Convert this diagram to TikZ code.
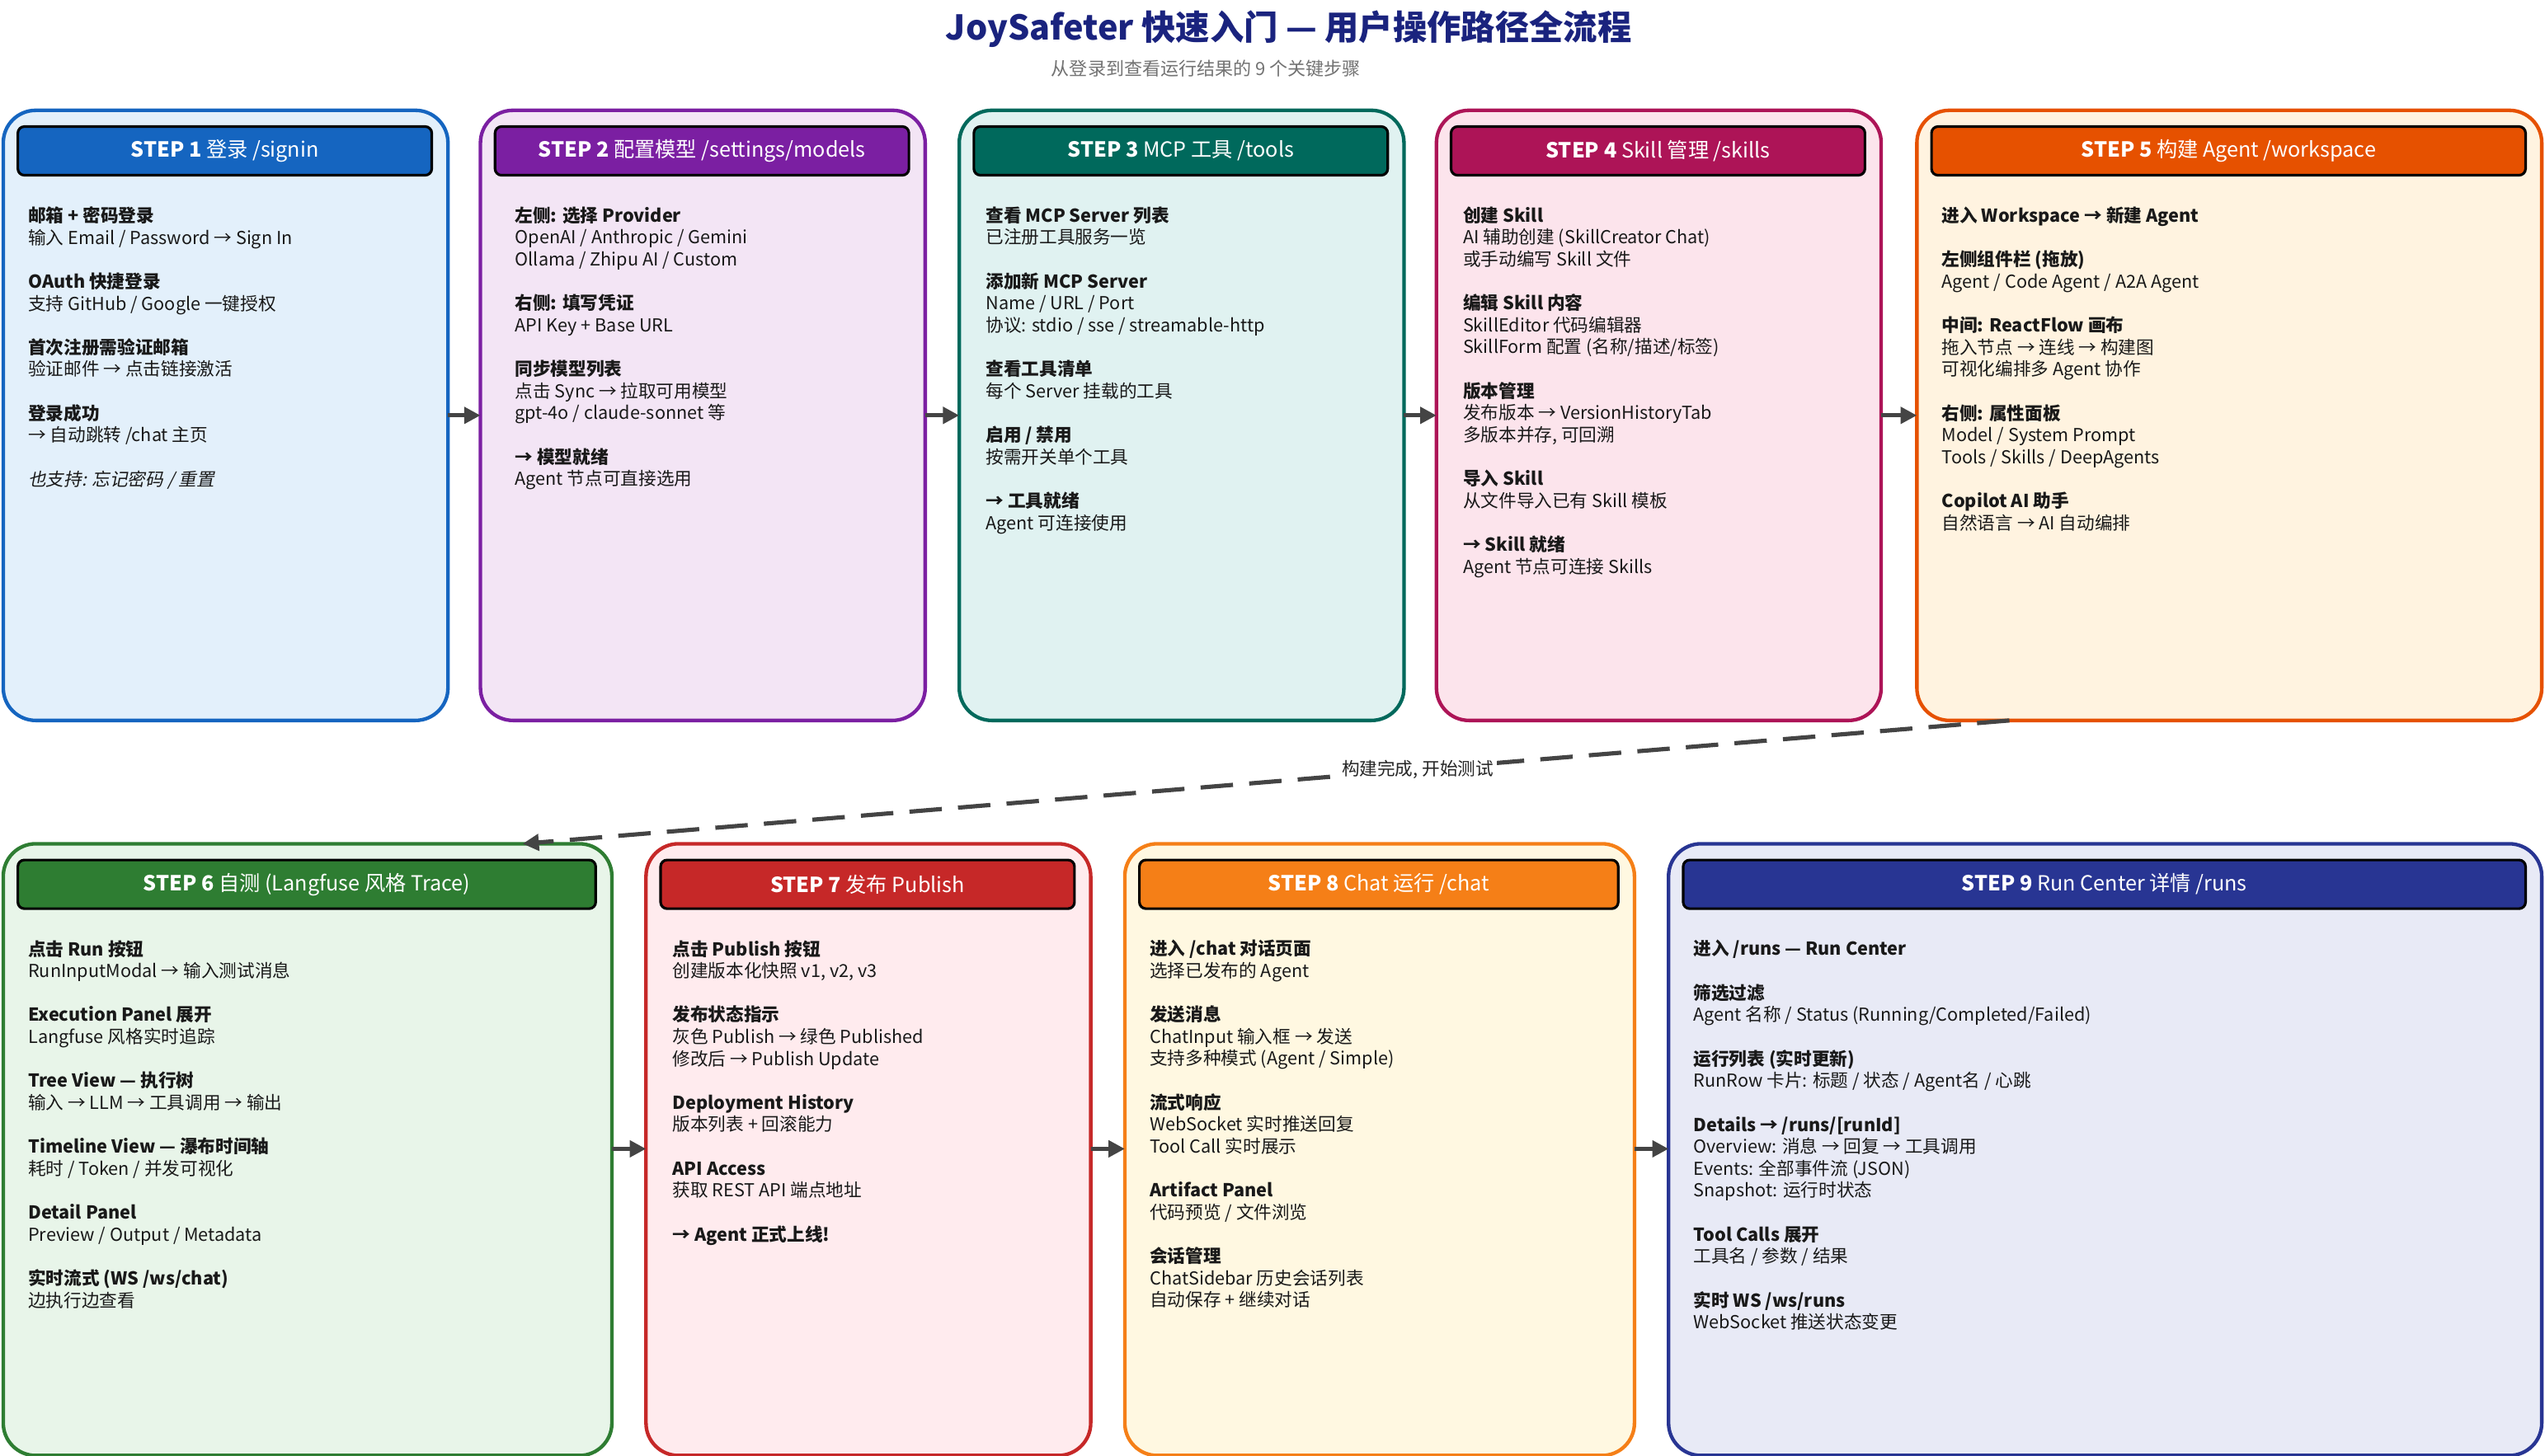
\documentclass[tikz,border=0pt]{standalone}
\usepackage{fontspec}
\setmainfont{Noto Sans CJK SC}
\newfontfamily\itfont[FakeSlant=0.2]{Noto Sans CJK SC}
\usetikzlibrary{arrows.meta}
\definecolor{cA}{HTML}{1565C0}\definecolor{fA}{HTML}{E3F0FB}
\definecolor{cB}{HTML}{7B1FA2}\definecolor{fB}{HTML}{F3E5F5}
\definecolor{cC}{HTML}{00695C}\definecolor{fC}{HTML}{E0F2F1}
\definecolor{cD}{HTML}{AD1457}\definecolor{fD}{HTML}{FCE4EC}
\definecolor{cE}{HTML}{E65100}\definecolor{fE}{HTML}{FFF3E0}
\definecolor{cF}{HTML}{2E7D32}\definecolor{fF}{HTML}{E8F5E9}
\definecolor{cG}{HTML}{C62828}\definecolor{fG}{HTML}{FFEBEE}
\definecolor{cH}{HTML}{F57F17}\definecolor{fH}{HTML}{FFF8E1}
\definecolor{cI}{HTML}{283593}\definecolor{fI}{HTML}{E8EAF6}
\definecolor{ttl}{HTML}{1A237E}
\definecolor{arr}{HTML}{444444}
\newcommand{\hd}[1]{\textbf{#1}}
\newcommand{\gp}{\\[6.8pt]}
\tikzset{
  panel/.style={draw=#1,line width=1.1pt,rounded corners=10pt},
  hbar/.style={draw=black,line width=0.8pt,rounded corners=2pt,fill=#1},
  htext/.style={text=white,font=\fontsize{6.4}{7}\selectfont},
  body/.style={anchor=north west,align=left,inner sep=0pt,font=\fontsize{5.5}{6.75}\selectfont,text=black!90},
  flow/.style={draw=arr,line width=1.3pt,-{Triangle[length=5pt,width=5pt]}},
}
\begin{document}
\begin{tikzpicture}[x=0.5pt,y=-0.5pt]
\useasboundingbox (0,0) rectangle (1568,897);
\fill[white] (0,0) rectangle (1568,897);
\node[text=ttl,font=\fontsize{10.5}{12}\bfseries] (title) at (794,18) {JoySafeter 快速入门 — 用户操作路径全流程};
\node[text=black!55,font=\fontsize{5.6}{7}\selectfont] (sub) at (743,42) {从登录到查看运行结果的 9 个关键步骤};
% boxes: name, x1,y1,x2,y2
\newcommand{\stepbox}[8]{%
  \filldraw[panel=#2,fill=#3] (#4,#5) rectangle (#6,#7);
  \path (#4,#5) coordinate (#1nw) (#6,#7) coordinate (#1se);
  \node[inner sep=0pt,fit/.style={}] (#1) at ({(#4+#6)/2},{(#5+#7)/2}) {};
  \path[hbar=#2] ({#4+9},{#5+10}) rectangle ({#6-10},{#5+40});
  \node[htext] at ({(#4+#6)/2-0.5},{#5+25}) {#8};
}
\stepbox{s1}{cA}{fA}{2}{68}{276}{444}{\textbf{STEP 1} 登录 /signin}
\stepbox{s2}{cB}{fB}{296}{68}{570}{444}{\textbf{STEP 2} 配置模型 /settings/models}
\stepbox{s3}{cC}{fC}{591}{68}{865}{444}{\textbf{STEP 3} MCP 工具 /tools}
\stepbox{s4}{cD}{fD}{885}{68}{1159}{444}{\textbf{STEP 4} Skill 管理 /skills}
\stepbox{s5}{cE}{fE}{1181}{68}{1566}{444}{\textbf{STEP 5} 构建 Agent /workspace}
\stepbox{s6}{cF}{fF}{2}{520}{377}{897}{\textbf{STEP 6} 自测 (Langfuse 风格 Trace)}
\stepbox{s7}{cG}{fG}{398}{520}{672}{897}{\textbf{STEP 7} 发布 Publish}
\stepbox{s8}{cH}{fH}{693}{520}{1007}{897}{\textbf{STEP 8} Chat 运行 /chat}
\stepbox{s9}{cI}{fI}{1028}{520}{1566}{897}{\textbf{STEP 9} Run Center 详情 /runs}

\node[body] (t1) at (17,127) {\hd{邮箱 + 密码登录}\\输入 Email / Password → Sign In\gp
\hd{OAuth 快捷登录}\\支持 GitHub / Google 一键授权\gp
\hd{首次注册需验证邮箱}\\验证邮件 → 点击链接激活\gp
\hd{登录成功}\\→ 自动跳转 /chat 主页\gp
{\itfont 也支持: 忘记密码 / 重置}};
\node[body] (t2) at (317,127) {\hd{左侧: 选择 Provider}\\OpenAI / Anthropic / Gemini\\Ollama / Zhipu AI / Custom\gp
\hd{右侧: 填写凭证}\\API Key + Base URL\gp
\hd{同步模型列表}\\点击 Sync → 拉取可用模型\\gpt-4o / claude-sonnet 等\gp
\hd{→ 模型就绪}\\Agent 节点可直接选用};
\node[body] (t3) at (607,127) {\hd{查看 MCP Server 列表}\\已注册工具服务一览\gp
\hd{添加新 MCP Server}\\Name / URL / Port\\协议: stdio / sse / streamable-http\gp
\hd{查看工具清单}\\每个 Server 挂载的工具\gp
\hd{启用 / 禁用}\\按需开关单个工具\gp
\hd{→ 工具就绪}\\Agent 可连接使用};
\node[body] (t4) at (901,127) {\hd{创建 Skill}\\AI 辅助创建 (SkillCreator Chat)\\或手动编写 Skill 文件\gp
\hd{编辑 Skill 内容}\\SkillEditor 代码编辑器\\SkillForm 配置 (名称/描述/标签)\gp
\hd{版本管理}\\发布版本 → VersionHistoryTab\\多版本并存, 可回溯\gp
\hd{导入 Skill}\\从文件导入已有 Skill 模板\gp
\hd{→ Skill 就绪}\\Agent 节点可连接 Skills};
\node[body] (t5) at (1196,127) {\hd{进入 Workspace → 新建 Agent}\gp
\hd{左侧组件栏 (拖放)}\\Agent / Code Agent / A2A Agent\gp
\hd{中间: ReactFlow 画布}\\拖入节点 → 连线 → 构建图\\可视化编排多 Agent 协作\gp
\hd{右侧: 属性面板}\\Model / System Prompt\\Tools / Skills / DeepAgents\gp
\hd{Copilot AI 助手}\\自然语言 → AI 自动编排};
\node[body] (t6) at (17,579) {\hd{点击 Run 按钮}\\RunInputModal → 输入测试消息\gp
\hd{Execution Panel 展开}\\Langfuse 风格实时追踪\gp
\hd{Tree View — 执行树}\\输入 → LLM → 工具调用 → 输出\gp
\hd{Timeline View — 瀑布时间轴}\\耗时 / Token / 并发可视化\gp
\hd{Detail Panel}\\Preview / Output / Metadata\gp
\hd{实时流式 (WS /ws/chat)}\\边执行边查看};
\node[body] (t7) at (414,579) {\hd{点击 Publish 按钮}\\创建版本化快照 v1, v2, v3\gp
\hd{发布状态指示}\\灰色 Publish → 绿色 Published\\修改后 → Publish Update\gp
\hd{Deployment History}\\版本列表 + 回滚能力\gp
\hd{API Access}\\获取 REST API 端点地址\gp
\hd{→ Agent 正式上线!}};
\node[body] (t8) at (708,579) {\hd{进入 /chat 对话页面}\\选择已发布的 Agent\gp
\hd{发送消息}\\ChatInput 输入框 → 发送\\支持多种模式 (Agent / Simple)\gp
\hd{流式响应}\\WebSocket 实时推送回复\\Tool Call 实时展示\gp
\hd{Artifact Panel}\\代码预览 / 文件浏览\gp
\hd{会话管理}\\ChatSidebar 历史会话列表\\自动保存 + 继续对话};
\node[body] (t9) at (1043,579) {\hd{进入 /runs — Run Center}\gp
\hd{筛选过滤}\\Agent 名称 / Status (Running/Completed/Failed)\gp
\hd{运行列表 (实时更新)}\\RunRow 卡片: 标题 / 状态 / Agent名 / 心跳\gp
\hd{Details → /runs/[runId]}\\Overview: 消息 → 回复 → 工具调用\\Events: 全部事件流 (JSON)\\Snapshot: 运行时状态\gp
\hd{Tool Calls 展开}\\工具名 / 参数 / 结果\gp
\hd{实时 WS /ws/runs}\\WebSocket 推送状态变更};

\path (276,256) coordinate (a1) (296,256) coordinate (b2)
      (570,256) coordinate (a2) (591,256) coordinate (b3)
      (865,256) coordinate (a3) (885,256) coordinate (b4)
      (1159,256) coordinate (a4) (1181,256) coordinate (b5)
      (377,708) coordinate (a6) (398,708) coordinate (b7)
      (672,708) coordinate (a7) (693,708) coordinate (b8)
      (1007,708) coordinate (a8) (1028,708) coordinate (b9)
      (1238,444) coordinate (d5) (322,520) coordinate (d6);
\draw[flow] (a1) -- (b2);
\draw[flow] (a2) -- (b3);
\draw[flow] (a3) -- (b4);
\draw[flow] (a4) -- (b5);
\draw[flow] (a6) -- (b7);
\draw[flow] (a7) -- (b8);
\draw[flow] (a8) -- (b9);
\draw[flow,dash pattern=on 10pt off 5pt] (d5) -- node[pos=0.398,fill=white,inner sep=1pt,text=black!85,font=\fontsize{5.5}{6.5}\selectfont] (lbl) {构建完成, 开始测试} (d6);
\end{tikzpicture}
\end{document}
